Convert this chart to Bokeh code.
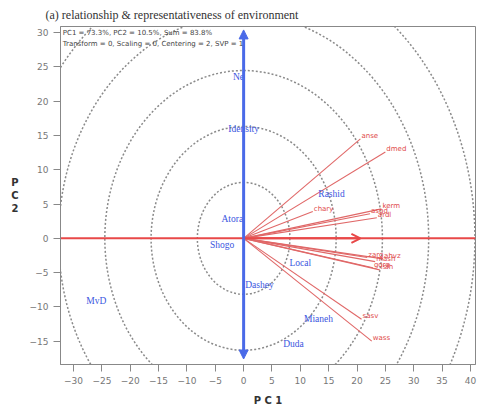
from bokeh.plotting import figure
from bokeh.models import Arrow, NormalHead, OpenHead, Label, FixedTicker, Range1d, ColumnDataSource
from bokeh.core.properties import value
from bokeh.embed import file_html
from bokeh.resources import INLINE

# Genotypes (blue labels)
gen_names = ["Ne", "Idensity", "Atora", "Shogo", "Rashid", "Local", "Dashey", "Mianeh", "Duda", "MvD"]
gen_x = [-0.9, 0.0, -2.0, -3.8, 15.5, 10.0, 2.8, 13.2, 8.8, -26.0]
gen_y = [23.5, 16.0, 2.8, -1.0, 6.4, -3.6, -6.8, -11.7, -15.4, -9.1]

# Environments (red vectors)
env_names = ["anse", "dmed", "chary", "asgd", "kerm", "ardl", "zarg", "mash", "ahvz", "gorg", "isfh", "sasv", "wass"]
env_x = [20.6, 25.0, 12.2, 22.3, 24.3, 23.5, 21.8, 23.2, 24.6, 22.8, 24.0, 20.8, 22.6]
env_y = [14.5, 12.6, 3.9, 3.6, 4.3, 3.0, -2.8, -3.4, -3.0, -4.3, -4.6, -11.8, -15.0]

# Concentric circles
ring_radius = [8.16, 16.32, 24.48, 32.64, 40.8]

x_ticks = [-30, -25, -20, -15, -10, -5, 0, 5, 10, 15, 20, 25, 30, 35, 40]
y_ticks = [-15, -10, -5, 0, 5, 10, 15, 20, 25, 30]

aea_len = 20.6
blue_up, blue_down = 30.4, -17.6

p = figure(width=481, height=419, x_range=Range1d(-32.3, 40.9), y_range=Range1d(-18.4, 30.9),
           output_backend="svg", toolbar_location=None,
           min_border_left=60, min_border_right=6, min_border_top=24, min_border_bottom=55)
p.background_fill_color = "white"
p.border_fill_color = "white"
p.grid.visible = False
p.outline_line_color = "#888888"
p.outline_line_width = 1

p.title.text = "(a) relationship & representativeness of environment"
p.title.text_font = "Liberation Serif"
p.title.text_font_size = "12px"
p.title.text_font_style = "normal"
p.title.text_color = "#333333"
p.title.offset = -15

for ax in (p.xaxis[0], p.yaxis[0]):
    ax.axis_line_color = "#888888"
    ax.major_tick_line_color = "#888888"
    ax.minor_tick_line_color = None
    ax.major_tick_out = 7
    ax.major_tick_in = 0
    ax.major_label_text_font = "DejaVu Sans"
    ax.major_label_text_font_size = "9px"
    ax.major_label_text_color = "#777777"
    ax.axis_label_text_font = "DejaVu Sans"
    ax.axis_label_text_font_style = "bold"
    ax.axis_label_text_font_size = "10px"
    ax.axis_label_text_color = "#333333"

p.xaxis.ticker = FixedTicker(ticks=x_ticks)
p.yaxis.ticker = FixedTicker(ticks=y_ticks)
p.xaxis.axis_label = "P C 1"
p.xaxis.axis_label_standoff = 8
p.yaxis.axis_label = "P\nC\n2"
p.yaxis.axis_label_orientation = "horizontal"
p.yaxis.axis_label_standoff = 8

# rings
for r in ring_radius:
    p.ellipse(x=0, y=0, width=2 * r, height=2 * r, fill_color=None,
              line_color="#8a8a8a", line_width=1.5, line_dash="2 2")

# horizontal red line
p.segment(x0=-32.3, y0=0, x1=40.9, y1=0, line_color="#e84848", line_width=2)
p.add_layout(Arrow(end=OpenHead(size=9, line_color="#e84848", line_width=2),
                   x_start=0, y_start=0, x_end=aea_len, y_end=0,
                   line_color="#e84848", line_width=2))

# environment vectors
src_env = ColumnDataSource(dict(x=env_x, y=env_y, name=env_names,
                                x0=[0] * len(env_x), y0=[0] * len(env_y)))
p.segment(x0="x0", y0="y0", x1="x", y1="y", source=src_env, line_color="#e06868", line_width=1.1)
p.text(x="x", y="y", text="name", source=src_env, text_font=value("DejaVu Sans"),
       text_font_size="7px", text_color="#e04848", text_align="left", text_baseline="bottom",
       x_offset=1, y_offset=1)

# blue vertical arrows
for yend in (blue_up, blue_down):
    p.add_layout(Arrow(end=NormalHead(size=9, fill_color="#4a6ae8", line_color="#4a6ae8"),
                       x_start=0, y_start=0, x_end=0, y_end=yend,
                       line_color="#4a6ae8", line_width=3))

# genotype labels
src_gen = ColumnDataSource(dict(x=gen_x, y=gen_y, name=gen_names))
p.text(x="x", y="y", text="name", source=src_gen, text_font=value("Liberation Serif"),
       text_font_size="9.5px", text_color="#3a55e0", text_align="center", text_baseline="middle")

# info text
p.add_layout(Label(x=-31.9, y=30.0, text="PC1 = 73.3%, PC2 = 10.5%, Sum = 83.8%",
                   text_font="DejaVu Sans", text_font_size="7px", text_color="#444444",
                   text_baseline="middle"))
p.add_layout(Label(x=-31.9, y=28.3, text="Transform = 0, Scaling = 0, Centering = 2, SVP = 1",
                   text_font="DejaVu Sans", text_font_size="7px", text_color="#444444",
                   text_baseline="middle"))

open("out.html", "w").write(file_html(p, INLINE))
